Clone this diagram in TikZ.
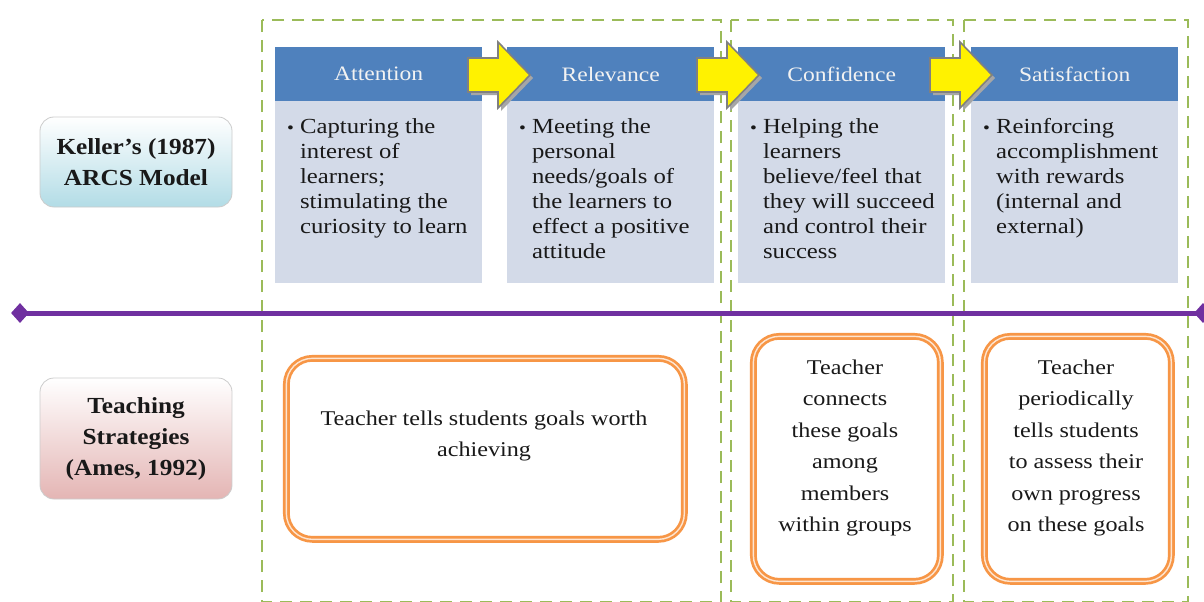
\documentclass[tikz,border=0pt]{standalone}
\usepackage{fontspec}
\setmainfont{Liberation Serif}
\newfontfamily\bodyf[FakeStretch=1.15]{Liberation Serif}
\newfontfamily\lblf[FakeStretch=1.1]{Liberation Serif}
\usetikzlibrary{shapes.geometric}
\definecolor{hdrblue}{HTML}{4F81BD}
\definecolor{bodyblue}{HTML}{D3DAE8}
\definecolor{grn}{HTML}{9BBB59}
\definecolor{purp}{HTML}{7030A0}
\definecolor{orng}{HTML}{F79646}
\definecolor{cyanlt}{HTML}{B2DCE6}
\definecolor{pinklt}{HTML}{E4B5B4}
\definecolor{arrgray}{HTML}{808080}
\begin{document}
\begin{tikzpicture}[x=1pt,y=-1pt,
  frame/.style={draw=grn, line width=2.8pt, dash pattern=on 12pt off 8pt},
  hdr/.style={fill=hdrblue, text=white!95!black, minimum width=207pt, minimum height=54pt, inner sep=0pt, anchor=north west, font=\bodyf\fontsize{20.5}{24}\selectfont},
  bodybox/.style={fill=bodyblue, minimum width=207pt, minimum height=182pt, inner sep=0pt, anchor=north west},
  bodytext/.style={anchor=north west, inner sep=0pt, font=\bodyf\fontsize{21.5}{25}\selectfont, text=black!90},
  lbl/.style={rounded corners=14pt, draw=gray!40, line width=0.8pt, minimum width=192pt, inner sep=0pt, align=center, font=\lblf\bfseries\fontsize{23}{31}\selectfont, text=black!90},
  strat/.style={draw=orng, line width=2.7pt, double=orng!25!white, double distance=1.4pt, rounded corners=26pt, inner sep=0pt, anchor=north west},
  strattext/.style={align=center, inner sep=0pt, font=\bodyf\fontsize{21}{31.5}\selectfont, text=black!90},
  purpline/.style={draw=purp, line width=5pt},
  dia/.style={diamond, fill=purp, minimum width=18pt, minimum height=20pt, inner sep=0pt},
  blkarrow/.style={fill=yellow, draw=arrgray, line width=1.6pt, line join=miter},
  blkshadow/.style={fill=arrgray!70}
]
\useasboundingbox (0,0) rectangle (1204,602);
\fill[white] (0,0) rectangle (1204,602);

% dashed frames
\draw[frame] (262,20) rectangle (721,602);
\draw[frame] (731,20) rectangle (953,602);
\draw[frame] (964,20) rectangle (1188,602);

% ARCS boxes
\node[bodybox] (bA) at (275,101) {};
\node[bodybox] (bR) at (507,101) {};
\node[bodybox] (bC) at (738,101) {};
\node[bodybox] (bS) at (971,101) {};
\node[hdr] (hA) at (275,47) {Attention};
\node[hdr] (hR) at (507,47) {Relevance};
\node[hdr] (hC) at (738,47) {Confidence};
\node[hdr] (hS) at (971,47) {Satisfaction};

\node[bodytext] (tA) at (287,116) {\begin{tabular}{@{}l@{\hspace{6pt}}l@{}}{\fontsize{17}{25}\selectfont\textbullet} & Capturing the\\ & interest of\\ & learners;\\ & stimulating the\\ & curiosity to learn\end{tabular}};
\node[bodytext] (tR) at (519,116) {\begin{tabular}{@{}l@{\hspace{6pt}}l@{}}{\fontsize{17}{25}\selectfont\textbullet} & Meeting the\\ & personal\\ & needs/goals of\\ & the learners to\\ & effect a positive\\ & attitude\end{tabular}};
\node[bodytext] (tC) at (750,116) {\begin{tabular}{@{}l@{\hspace{6pt}}l@{}}{\fontsize{17}{25}\selectfont\textbullet} & Helping the\\ & learners\\ & believe/feel that\\ & they will succeed\\ & and control their\\ & success\end{tabular}};
\node[bodytext] (tS) at (983,116) {\begin{tabular}{@{}l@{\hspace{6pt}}l@{}}{\fontsize{17}{25}\selectfont\textbullet} & Reinforcing\\ & accomplishment\\ & with rewards\\ & (internal and\\ & external)\end{tabular}};

% block arrows
\foreach \ax in {468,697,930} {
  \fill[blkshadow] (\ax+3,61) -- (\ax+33,61) -- (\ax+33,45) -- (\ax+65,78) -- (\ax+33,111) -- (\ax+33,95) -- (\ax+3,95) -- cycle;
  \draw[blkarrow] (\ax,58) -- (\ax+30,58) -- (\ax+30,42) -- (\ax+62,75) -- (\ax+30,108) -- (\ax+30,92) -- (\ax,92) -- cycle;
}

% purple timeline
\node[dia] (ld) at (20,313) {};
\node[dia] (rd) at (1203,313) {};
\draw[purpline] (ld.center) -- (rd.center);

% left labels
\node[lbl, top color=white, bottom color=cyanlt, minimum height=90pt] (keller) at (136,162) {Keller’s (1987)\\ARCS Model};
\node[lbl, top color=white, bottom color=pinklt, minimum height=121pt] (ames) at (136,438.5) {Teaching\\Strategies\\(Ames, 1992)};

% strategy boxes
\node[strat, minimum width=398pt, minimum height=181pt] (s1) at (285,357) {};
\node[strattext] (ts1) at (484,436) {Teacher tells students goals worth\\achieving};
\node[strat, minimum width=187pt, minimum height=245pt] (s2) at (752,335) {};
\node[strattext] (ts2) at (845,448) {Teacher\\connects\\these goals\\among\\members\\within groups};
\node[strat, minimum width=187pt, minimum height=245pt] (s3) at (983,335) {};
\node[strattext] (ts3) at (1076,448) {Teacher\\periodically\\tells students\\to assess their\\own progress\\on these goals};
\end{tikzpicture}
\end{document}
